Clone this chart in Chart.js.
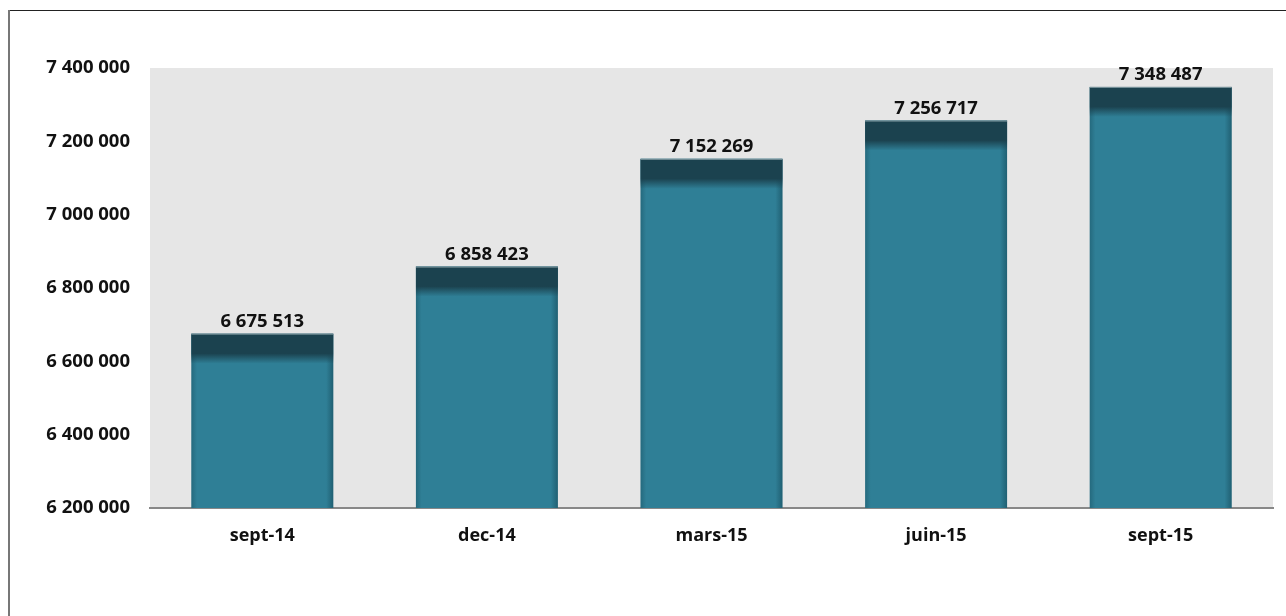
<!DOCTYPE html>
<html>
<head>
<meta charset="utf-8">
<script src="https://cdn.jsdelivr.net/npm/chart.js@4/dist/chart.umd.min.js"></script>
<style>
  html, body { margin: 0; padding: 0; background: #fff; }
  #wrap { width: 1286px; height: 616px; position: relative; }
</style>
</head>
<body>
<div id="wrap"><canvas id="barChart"></canvas></div>
<script>
// data
const periods = ["sept-14", "dec-14", "mars-15", "juin-15", "sept-15"];
const totals = [6675513, 6858423, 7152269, 7256717, 7348487];
const yMin = 6200000;
const yMax = 7400000;
const yStep = 200000;

const FONT = "'Open Sans', Lato, sans-serif";
const fmt = (v) => String(Math.round(v)).replace(/\B(?=(\d{3})+(?!\d))/g, " ");

// grey plot area + outer frame
const backdrop = {
  id: "backdrop",
  beforeDraw(chart) {
    const { ctx, chartArea } = chart;
    ctx.save();
    ctx.fillStyle = "#e6e6e6";
    ctx.fillRect(chartArea.left, chartArea.top, chartArea.right - chartArea.left, chartArea.bottom - chartArea.top);
    // frame lines
    ctx.fillStyle = "#222";
    ctx.fillRect(8, 10, chart.width - 8, 1);
    ctx.fillStyle = "#777";
    ctx.fillRect(8, 10, 2, chart.height - 10);
    ctx.restore();
  }
};

// dark top band, side shading and value labels on each bar
const barDecor = {
  id: "barDecor",
  afterDatasetsDraw(chart) {
    const { ctx, chartArea } = chart;
    const meta = chart.getDatasetMeta(0);
    ctx.save();
    meta.data.forEach((bar, i) => {
      const left = bar.x - bar.width / 2;
      const right = bar.x + bar.width / 2;
      const top = bar.y;
      const bottom = Math.min(bar.base, chartArea.bottom);
      const w = right - left;
      const h = bottom - top;

      // side shading
      const side = ctx.createLinearGradient(left, 0, right, 0);
      side.addColorStop(0, "rgba(0,30,40,0.22)");
      side.addColorStop(0.04, "rgba(0,30,40,0)");
      side.addColorStop(0.95, "rgba(0,30,40,0)");
      side.addColorStop(1, "rgba(0,30,40,0.32)");
      ctx.fillStyle = side;
      ctx.fillRect(left, top, w, h);

      // dark band on top
      const band = 30;
      const g = ctx.createLinearGradient(0, top, 0, top + band);
      g.addColorStop(0, "rgba(27,66,79,1)");
      g.addColorStop(0.66, "rgba(27,66,79,1)");
      g.addColorStop(1, "rgba(27,66,79,0)");
      ctx.fillStyle = g;
      ctx.fillRect(left, top, w, Math.min(band, h));

      // thin light edge at the top
      ctx.fillStyle = "rgba(170,190,195,0.7)";
      ctx.fillRect(left, top, w, 1);

      // value label
      ctx.fillStyle = "#111";
      ctx.font = "bold 18.5px " + FONT;
      ctx.textAlign = "center";
      ctx.textBaseline = "alphabetic";
      ctx.fillText(fmt(totals[i]), bar.x, top - 7);
    });
    ctx.restore();
  }
};

new Chart(document.getElementById("barChart"), {
  type: "bar",
  data: {
    labels: periods,
    datasets: [{
      data: totals,
      backgroundColor: "#2f7f96",
      borderWidth: 0,
      barPercentage: 0.632,
      categoryPercentage: 1
    }]
  },
  options: {
    responsive: true,
    maintainAspectRatio: false,
    animation: false,
    layout: { padding: { top: 68, right: 13, left: 0, bottom: 0 } },
    plugins: {
      legend: { display: false },
      tooltip: { enabled: false }
    },
    scales: {
      x: {
        grid: { display: false, drawTicks: false },
        border: { display: true, color: "#888", width: 2 },
        ticks: {
          color: "#111",
          font: { family: FONT, size: 18, weight: "bold" },
          padding: 17
        },
        afterFit(scale) { scale.height = 108; }
      },
      y: {
        min: yMin,
        max: yMax,
        grid: { display: false, drawTicks: false },
        border: { display: false },
        ticks: {
          stepSize: yStep,
          color: "#111",
          font: { family: FONT, size: 18.5, weight: "bold" },
          padding: 20,
          callback: (v) => fmt(v)
        },
        afterFit(scale) { scale.width = 150; }
      }
    }
  },
  plugins: [backdrop, barDecor]
});
</script>
</body>
</html>
